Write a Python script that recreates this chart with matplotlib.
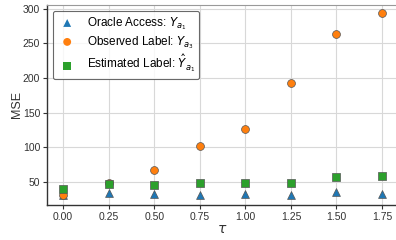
import numpy as np
import matplotlib
matplotlib.use("Agg")
import matplotlib.pyplot as plt

tau = [0.0, 0.25, 0.5, 0.75, 1.0, 1.25, 1.5, 1.75]
oracle = [31, 34, 33, 31, 33, 32, 35, 33]
observed = [31, 49, 67, 102, 126, 193, 263, 293]
estimated = [40, 47, 46, 48, 48.5, 48, 57.5, 58]

plt.rcParams['font.family'] = ['Liberation Sans', 'DejaVu Sans']
plt.rcParams['mathtext.fontset'] = 'dejavusans'

fig = plt.figure(figsize=(3.96, 2.4), dpi=100)
ax = fig.add_axes([0.119, 0.146, 0.886, 0.833])

ax.grid(True, color='#d8d8d8', lw=0.8, zorder=0)
ax.set_axisbelow(True)

mk = dict(s=32, edgecolors='#555555', linewidths=0.5, zorder=3)
ax.scatter(tau, oracle, marker='^', color='#1f77b4', label=r'Oracle Access: $Y_{a_1}$', **mk)
ax.scatter(tau, observed, marker='o', color='#ff7f0e', label=r'Observed Label: $Y_{a_3}$', **mk)
ax.scatter(tau, estimated, marker='s', color='#2ca02c', label=r'Estimated Label: $\hat{Y}_{a_1}$', **mk)

ax.set_xlim(-0.0875, 1.8375)
ax.set_ylim(17, 305)
ax.set_xticks(tau)
ax.set_xticklabels(['%.2f' % t for t in tau])
ax.set_yticks([50, 100, 150, 200, 250, 300])

ax.tick_params(labelsize=7.5, length=3, width=0.8, color='#333333', labelcolor='#333333', pad=2)
ax.set_xlabel(r'$\tau$', fontsize=10, color='#333333', labelpad=0)
ax.set_ylabel('MSE', fontsize=9, color='#333333', labelpad=0)

for s in ['left', 'bottom']:
    ax.spines[s].set_color('#333333')
    ax.spines[s].set_linewidth(1.0)
ax.spines['top'].set_color('#999999')
ax.spines['right'].set_visible(False)

leg = ax.legend(loc='upper left', fontsize=8.5, frameon=True, fancybox=True,
                labelspacing=0.2, handlelength=1.7, handletextpad=0.8,
                borderpad=0.35, borderaxespad=0.5)
leg.get_frame().set_edgecolor('#444444')
leg.get_frame().set_linewidth(0.8)
leg.get_frame().set_boxstyle('round', pad=0, rounding_size=0.15)
for h in leg.legend_handles:
    h.set_edgecolor('none')

fig.savefig('out.png', dpi=100)
